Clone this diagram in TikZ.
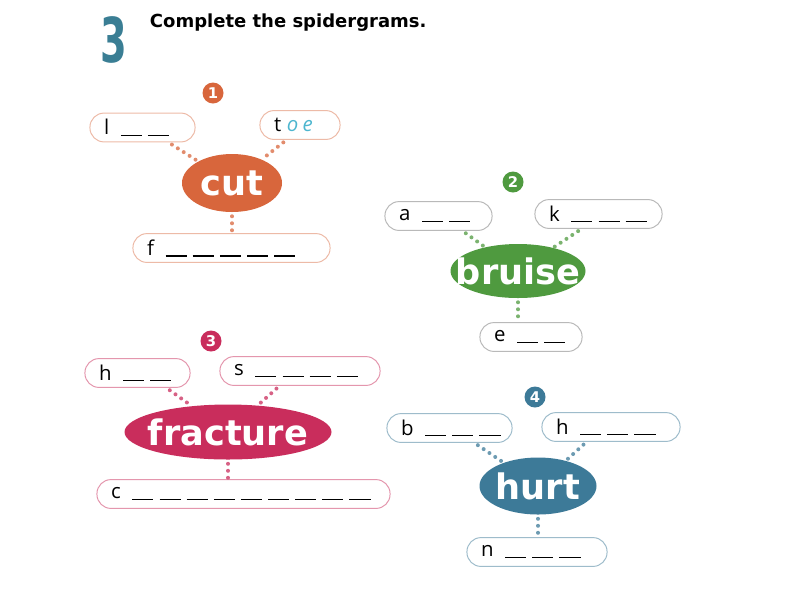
\documentclass[tikz,border=0pt]{standalone}
\usepackage{fontspec}
\setmainfont{DejaVu Sans}
\newfontfamily\boxfont{Open Sans}
\usepackage{tikz}
\usetikzlibrary{calc,shapes.geometric}
\definecolor{cutc}{HTML}{D8663C}
\definecolor{brc}{HTML}{4F9A3F}
\definecolor{frc}{HTML}{C92D5C}
\definecolor{huc}{HTML}{3D7A98}
\definecolor{numc}{HTML}{3A7E94}
\definecolor{toec}{HTML}{4DB6CF}
\newdimen\pxu
\pxu=0.025cm
\newcommand{\gaps}[1]{\mbox{\kern4pt\foreach \k in {1,...,#1}{\kern4.3pt\rule[-1pt]{15pt}{0.9pt}}}}

\begin{document}
\begin{tikzpicture}[x=0.025cm, y=-0.025cm,
  box/.style={draw=#1, line width=0.7pt, rounded corners=10pt, fill=white, minimum height=20.5pt, inner xsep=10pt, inner ysep=0pt, align=left, font=\boxfont\fontsize{14.5}{16}\selectfont},
  hub/.style={ellipse, fill=#1, text=white, inner sep=0pt, font=\bfseries\fontsize{25}{25}\selectfont},
  numdot/.style={circle, fill=#1, text=white, inner sep=0pt, minimum size=21\pxu, font=\bfseries\fontsize{10.5}{10.5}\selectfont},
  dots/.style={draw=#1, line width=4\pxu, line cap=round, dash pattern=on 0pt off 7\pxu, shorten <=4\pxu}]
  \useasboundingbox (0,0) rectangle (800,600);
  \node[text=numc, font=\bfseries\fontsize{44}{44}\selectfont] (bignum) at (114,40) {\scalebox{0.62}[1]{3}};
  \node[anchor=west, font=\bfseries\fontsize{12.8}{14}\selectfont] (title) at (145,23) {Complete the spidergrams.};

  \node[numdot=cutc] (n1) at (213,93) {1};
  \node[box=cutc!45, text width=77\pxu] (cutL) at (142.5,127.5) {l\gaps{2}};
  \node[box=cutc!45, text width=52\pxu] (cutR) at (300,125) {t\kern4pt{\color{toec}\itshape o\kern3pt e}};
  \node[hub=cutc, minimum width=100\pxu, minimum height=58\pxu] (cut) at (232,183) {\makebox[0pt]{cut}};
  \node[box=cutc!45, text width=169\pxu] (cutF) at (231.5,248) {f\gaps{5}};
  \draw[dots=cutc!75] ($(cutL.south east)+(-27,0)$) -- (cut);
  \draw[dots=cutc!75] ($(cutR.south west)+(27,0)$) -- (cut);
  \draw[dots=cutc!75] (cut.south) -- (cut.south |- cutF.north);

  \node[numdot=brc] (n2) at (513,182) {2};
  \node[box=gray!55, text width=79\pxu] (brA) at (438.5,216) {a\gaps{2}};
  \node[box=gray!55, text width=99\pxu] (brK) at (598.5,214) {k\gaps{3}};
  \node[hub=brc, minimum width=135\pxu, minimum height=54\pxu] (bruise) at (518,271) {\makebox[0pt]{bruise}};
  \node[box=gray!55, text width=74\pxu] (brE) at (531,337) {e\gaps{2}};
  \draw[dots=brc!75] ($(brA.south east)+(-30,0)$) -- (bruise);
  \draw[dots=brc!75] ($(brK.south west)+(47,0)$) -- (bruise);
  \draw[dots=brc!75] (bruise.south) -- (bruise.south |- brE.north);

  \node[numdot=frc] (n3) at (211,341) {3};
  \node[box=frc!50, text width=77\pxu] (frH) at (137.5,373) {h\gaps{2}};
  \node[box=frc!50, text width=132\pxu] (frS) at (300,371) {s\gaps{4}};
  \node[hub=frc, minimum width=207\pxu, minimum height=55\pxu] (fracture) at (228,432) {\makebox[0pt]{fracture}};
  \node[box=frc!50, text width=265\pxu] (frC) at (243.5,494) {c\gaps{9}};
  \draw[dots=frc!75] ($(frH.south east)+(-24,0)$) -- (fracture);
  \draw[dots=frc!75] ($(frS.south west)+(60,0)$) -- (fracture);
  \draw[dots=frc!75] (fracture.south) -- (fracture.south |- frC.north);

  \node[numdot=huc] (n4) at (535,397) {4};
  \node[box=huc!50, text width=97\pxu] (huB) at (449.5,428) {b\gaps{3}};
  \node[box=huc!50, text width=110\pxu] (huH) at (611,427) {h\gaps{3}};
  \node[hub=huc, minimum width=117\pxu, minimum height=57\pxu] (hurt) at (538,486) {\makebox[0pt]{hurt}};
  \node[box=huc!50, text width=112\pxu] (huN) at (537,552) {n\gaps{3}};
  \draw[dots=huc!75] ($(huB.south east)+(-38,0)$) -- (hurt);
  \draw[dots=huc!75] ($(huH.south west)+(45,0)$) -- (hurt);
  \draw[dots=huc!75] (hurt.south) -- (hurt.south |- huN.north);
\end{tikzpicture}
\end{document}
